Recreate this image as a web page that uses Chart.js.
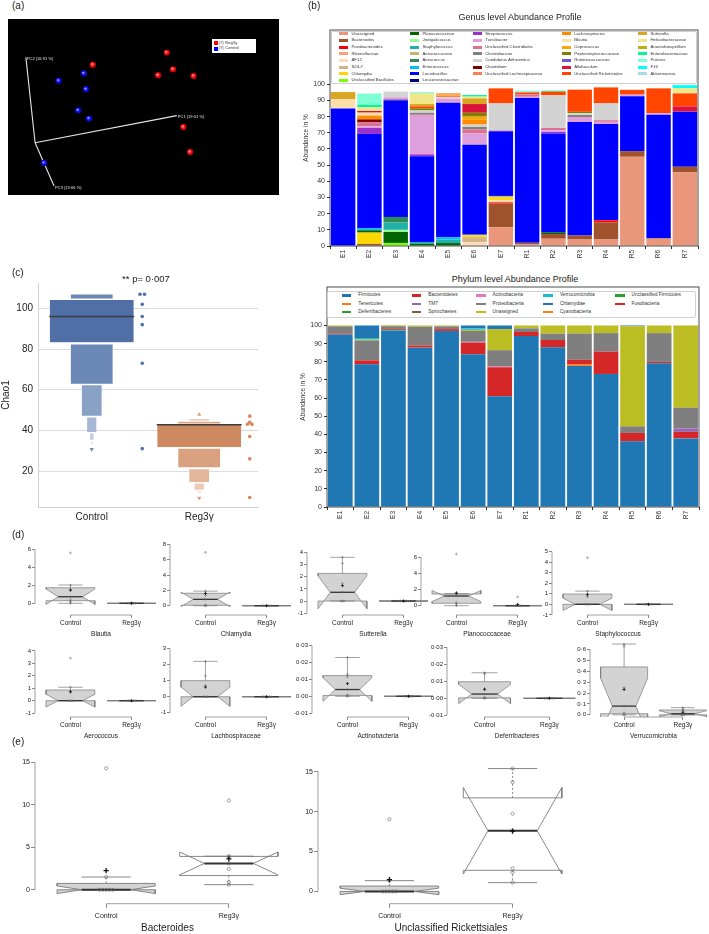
<!DOCTYPE html>
<html>
<head>
<meta charset="utf-8">
<script src="https://cdn.jsdelivr.net/npm/chart.js@4.4.1/dist/chart.umd.min.js"></script>
<style>
body { margin: 0; background: #fff; font-family: "Liberation Sans", Arial, sans-serif; }
#page { position: relative; width: 709px; height: 934px; overflow: hidden; background: #fff; }
canvas { position: absolute; }
.txt { position: absolute; white-space: nowrap; color: #222; line-height: 1; }
.lg { position: absolute; background: #fff; border: 1px solid #d0d0d0; border-radius: 2px; box-sizing: border-box; }
.sw { position: absolute; }
</style>
</head>
<body>
<div id="page"></div>
<script>
// ---------- (a) PCoA, screen positions in the 3D view (0-100 of the black box)
const pcaReg3 = [[31.3, 74.0], [58.6, 80.9], [60.9, 71.4], [55.4, 68.0], [68.5, 67.6], [64.7, 38.6], [67.2, 24.4]]
const pcaControl = [[28.0, 69.1], [18.7, 64.9], [28.8, 60.1], [25.9, 48.1], [29.9, 43.4], [13.3, 18.2]]
const pcaOrigin = [10.0, 29.7]
const pcaAxisEnds = [[62.3, 45.1], [6.6, 78.2], [17.0, 5.1]]
const pcaAxisLabels = ['PC1 (19·01 %)', 'PC2 (16·91 %)', 'PC3 (13·66 %)']

// ---------- (b) abundance profiles
const samples = ['E1', 'E2', 'E3', 'E4', 'E5', 'E6', 'E7', 'R1', 'R2', 'R3', 'R4', 'R5', 'R6', 'R7']
const abundanceTicks = [0, 10, 20, 30, 40, 50, 60, 70, 80, 90, 100]

const genusNames = ['Unassigned', 'Bacteroides', 'Parabacteroides', 'Rikenellaceae', 'AF12', 'S24-7', 'Chlamydia', 'Unclassified Bacillales',
    'Planococcaceae', 'Jeotgalicoccus', 'Staphylococcus', 'Aerococcaceae', 'Aerococcus', 'Enterococcus', 'Lactobacillus', 'Leuconostocaceae',
    'Streptococcus', 'Turicibacter', 'Unclassified Clostridiales', 'Clostridiaceae', 'Candidatus Arthromitus', 'Clostridium', 'Unclassified Lachnospiraceae',
    'Lachnospiracea', 'Blautia', 'Coprococcus', 'Peptostreptococcaceae', 'Ruminococcaceae', 'Allobaculum', 'Unclassified Rickettsiales',
    'Sutterella', 'Helicobacteraceae', 'Anaerobiospirillum', 'Enterobacteriaceae', 'Proteus', 'F16', 'Akkermansia']
const genusColors = ['#e9967a', '#a0522d', '#ff0000', '#ffa07a', '#ffdab9', '#d2b48c', '#ffd700', '#7cfc00',
    '#006400', '#98fb98', '#20b2aa', '#bdb76b', '#2e8b57', '#00bfff', '#0000ff', '#000080',
    '#9932cc', '#dda0dd', '#db7093', '#808080', '#d3d3d3', '#800000', '#ff7f50',
    '#ff8c00', '#ffdead', '#ffa500', '#808000', '#6a5acd', '#dc143c', '#ff4500',
    '#daa520', '#f0e68c', '#bab00b', '#00fa9a', '#7fffd4', '#00ffff', '#add8e6']

// genus segments per sample (% , bottom to top)
const genusE1 = { Lactobacillus: 85.1, Blautia: 5.8, Sutterella: 4.3 }
const genusE2 = { Bacteroides: 1.3, Chlamydia: 7, Planococcaceae: 1.4, Enterococcus: 1.3, Lactobacillus: 58.3, Streptococcus: 3.7, Turicibacter: 1, 'Unclassified Clostridiales': 2.5, Clostridium: 1.8, Lachnospiracea: 2.4, Blautia: 1.8, Allobaculum: 1, Helicobacteraceae: 2.3, Enterobacteriaceae: 1.5, Proteus: 7 }
const genusE3 = { 'Unclassified Bacillales': 1.9, Planococcaceae: 6.8, Jeotgalicoccus: 1.3, Staphylococcus: 4.5, Aerococcus: 3.5, Lactobacillus: 71.9, Leuconostocaceae: 0.6, Turicibacter: 1.5, 'Candidatus Arthromitus': 3.5 }
const genusE4 = { Planococcaceae: 1.3, Staphylococcus: 1.2, Lactobacillus: 53, Streptococcus: 1.2, Turicibacter: 23.9, 'Unclassified Clostridiales': 0.6, Clostridiaceae: 1.2, 'Candidatus Arthromitus': 1.5, Peptostreptococcaceae: 1.3, 'Unclassified Rickettsiales': 1.2, Sutterella: 1.4, Helicobacteraceae: 6.6, Enterobacteriaceae: 0.5 }
const genusE5 = { Planococcaceae: 1.8, Staphylococcus: 2.2, Enterococcus: 1.5, Lactobacillus: 83.1, Turicibacter: 2.5, 'Candidatus Arthromitus': 1, 'Unclassified Lachnospiraceae': 0.9, Coprococcus: 0.8, 'Unclassified Rickettsiales': 0.5 }
const genusE6 = { AF12: 2.5, 'S24-7': 3, Chlamydia: 1, Aerococcaceae: 0.5, Lactobacillus: 55.6, Turicibacter: 7, 'Unclassified Clostridiales': 2.5, Clostridiaceae: 1.5, 'Candidatus Arthromitus': 1.5, Lachnospiracea: 3.2, Coprococcus: 1.7, Peptostreptococcaceae: 2.4, Allobaculum: 5.4, Sutterella: 3.5, Helicobacteraceae: 1.1, Enterobacteriaceae: 1 }
const genusE7 = { Unassigned: 11.6, Bacteroides: 14.6, Parabacteroides: 0.8, AF12: 1.5, Chlamydia: 1.5, Aerococcaceae: 1, Lactobacillus: 40, 'Unclassified Clostridiales': 0.5, 'Candidatus Arthromitus': 16.7, 'Unclassified Rickettsiales': 9.3 }
const genusR1 = { Unassigned: 1, Bacteroides: 1, Lactobacillus: 89.5, Turicibacter: 0.8, 'Unclassified Clostridiales': 1.5, 'Unclassified Rickettsiales': 1.2, Proteus: 1 }
const genusR2 = { Unassigned: 4.5, Bacteroides: 2.9, Planococcaceae: 1, Lactobacillus: 61.2, Streptococcus: 1, Turicibacter: 1, 'Unclassified Clostridiales': 1.4, 'Candidatus Arthromitus': 20.2, 'Unclassified Rickettsiales': 2.3, Enterobacteriaceae: 0.6 }
const genusR3 = { Unassigned: 4, Bacteroides: 2.5, Lactobacillus: 70.2, Turicibacter: 3.1, Clostridiaceae: 1.2, 'Candidatus Arthromitus': 1.2, Peptostreptococcaceae: 0.8, 'Unclassified Rickettsiales': 13.7 }
const genusR4 = { Unassigned: 4, Bacteroides: 10.5, Parabacteroides: 1.4, Lactobacillus: 59.5, Turicibacter: 1.4, 'Unclassified Clostridiales': 1, 'Candidatus Arthromitus': 10.4, 'Unclassified Rickettsiales': 9.9 }
const genusR5 = { Unassigned: 55.2, Bacteroides: 3.5, Lactobacillus: 33.9, Turicibacter: 1, 'Unclassified Rickettsiales': 3 }
const genusR6 = { Unassigned: 4.5, Bacteroides: 0.3, Lactobacillus: 76.4, Turicibacter: 1, 'Unclassified Rickettsiales': 15.3 }
const genusR7 = { Unassigned: 45.5, Bacteroides: 3.5, Lactobacillus: 34.1, Allobaculum: 3.3, 'Unclassified Rickettsiales': 8, Helicobacteraceae: 3.3, F16: 1.8 }
const genusSamples = [genusE1, genusE2, genusE3, genusE4, genusE5, genusE6, genusE7, genusR1, genusR2, genusR3, genusR4, genusR5, genusR6, genusR7]

// phylum, one array per phylum over the samples
const phylumNames = ['Firmicutes', 'Tenericutes', 'Deferribacteres', 'Bacteroidetes', 'TM7', 'Spirochaetes', 'Actinobacteria',
    'Proteobacteria', 'Unassigned', 'Verrucomicrobia', 'Chlamydiae', 'Cyanobacteria', 'Unclassified Firmicutes', 'Fusobacteria']
const phylumColors = ['#1f77b4', '#ff7f0e', '#2ca02c', '#d62728', '#9467bd', '#8c564b', '#e377c2',
    '#7f7f7f', '#bcbd22', '#17becf', '#1f77b4', '#ff7f0e', '#2ca02c', '#d62728']
const firmicutes = [95, 78.6, 97.3, 87.8, 97, 84.2, 61, 94.2, 88, 77.7, 73.3, 36.2, 79.2, 37.8]
const tenericutes = [0, 0, 0, 0, 0, 0, 0, 0, 0, 0.8, 0, 0, 0, 0]
const deferribacteres = [0, 0, 0.3, 0, 0, 0, 0, 0, 0, 0, 0, 0, 0, 0]
const bacteroidetes = [0.6, 2.2, 0.5, 1.2, 1, 6.4, 16, 2.2, 4, 2.6, 12.3, 4.6, 0.8, 3.6]
const tm7 = [0, 0, 0, 0, 0, 0, 0, 0, 0, 0, 0, 0, 0, 1.8]
const spirochaetes = [0, 0, 0, 0, 0, 0, 0, 0, 0, 0, 0, 0, 0, 0]
const actinobacteria = [0, 0, 0, 0, 0, 0.4, 0.4, 0, 0, 0, 0, 0, 0, 0]
const proteobacteria = [3.9, 11, 1.5, 10.3, 1.5, 6, 9, 2, 3.5, 14.5, 10.2, 3.6, 15.8, 11.5]
const unassignedPhylum = [0.5, 0.5, 0.5, 0.7, 0.5, 0.6, 11.6, 1.6, 4.5, 4.4, 4.2, 55.2, 4.2, 45.3]
const verrucomicrobia = [0, 0.8, 0, 0, 0, 0.8, 0, 0, 0, 0, 0, 0, 0, 0]
const chlamydiae = [0, 6.9, 0, 0, 0, 1.6, 2, 0, 0, 0, 0, 0.4, 0, 0]
const cyanobacteria = [0, 0, 0, 0, 0, 0, 0, 0, 0, 0, 0, 0, 0, 0]
const unclassifiedFirmicutes = [0, 0, 0, 0, 0, 0, 0, 0, 0, 0, 0, 0, 0, 0]
const fusobacteria = [0, 0, 0, 0, 0, 0, 0, 0, 0, 0, 0, 0, 0, 0]
const phylumValues = [firmicutes, tenericutes, deferribacteres, bacteroidetes, tm7, spirochaetes, actinobacteria,
    proteobacteria, unassignedPhylum, verrucomicrobia, chlamydiae, cyanobacteria, unclassifiedFirmicutes, fusobacteria]

// ---------- (c) Chao1 boxen plot
const chaoGroups = ['Control', 'Reg3γ']
const chaoTicks = [20, 40, 60, 80, 100]
const chaoControl = [107, 107, 102, 96, 92, 73, 31]
const chaoReg3 = [47, 44, 43, 43, 37, 26, 7]
const chaoMedians = [96, 42.8]
const chaoControlLower = [[83.1, 104.4], [62.7, 82.6], [46.9, 62.5], [38.9, 46.6], [35.1, 38.7], [33, 35]]
const chaoControlUpper = [null, [104.6, 107.1]]
const chaoReg3Lower = [[31.5, 43], [21.5, 31.3], [14.3, 21.2], [10.5, 14.1], [9, 10.4]]
const chaoReg3Upper = [null, [43.1, 44.5], [44.6, 45.8]]
const chaoControlFliers = [30.7]
const chaoReg3Fliers = [47.8, 6.7]

// ---------- (d) relative abundances, 7 mice per group
const blautiaControl = [0, 0.2, 0.38, 0.73, 1.43, 2.03, 5.6]
const blautiaReg3 = [0, 0, 0, 0, 0, 0, 0.02]
const chlamydiaControl = [0, 0, 0.1, 0.83, 1.34, 1.9, 6.95]
const chlamydiaReg3 = [0, 0, 0, 0, 0, 0, 0]
const sutterellaControl = [0, 0, 0, 0.72, 1.45, 3.1, 3.6]
const sutterellaReg3 = [0, 0, 0, 0, 0, 0, 0]
const planococcaceaeControl = [0, 0.2, 0.4, 1.2, 1.4, 1.5, 6.4]
const planococcaceaeReg3 = [0, 0, 0, 0, 0, 0, 1.1]
const staphylococcusControl = [0, 0, 0, 0, 0.7, 1.25, 4.42]
const staphylococcusReg3 = [0, 0, 0, 0, 0, 0, 0]
const aerococcusControl = [0, 0, 0, 0, 0.64, 1.08, 3.42]
const aerococcusReg3 = [0, 0, 0, 0, 0, 0, 0]
const lachnoControl = [0, 0, 0, 0, 0.7, 1.3, 2.2]
const lachnoReg3 = [0, 0, 0, 0, 0, 0, 0]
const actinoControl = [0, 0, 0.001, 0.004, 0.0115, 0.013, 0.023]
const actinoReg3 = [0, 0, 0, 0, 0, 0, 0]
const deferriControl = [0, 0, 0.0005, 0.0025, 0.005, 0.0145, 0.015]
const deferriReg3 = [0, 0, 0, 0, 0, 0, 0]
const verrucoControl = [0, 0, 0.02, 0.08, 0.25, 0.63, 0.65]
const verrucoReg3 = [0, 0, 0, 0.01, 0.04, 0.05, 0.066]

// ---------- (e)
const bacteroidesControl = [0, 0, 0, 0, 0, 1.5, 14.3]
const bacteroidesReg3 = [0.6, 0.9, 2.45, 3.1, 3.9, 3.95, 10.5]
const rickettsialesControl = [0, 0, 0, 0, 0, 1.35, 9.05]
const rickettsialesReg3 = [1.1, 2.4, 2.9, 7.6, 9.75, 13.7, 15.4]
const eTicks = [0, 5, 10, 15]

Chart.defaults.font.family = '"Liberation Sans", Arial, sans-serif'
Chart.defaults.color = '#333'
Chart.defaults.animation = false
Chart.defaults.responsive = false
Chart.defaults.events = []
Chart.defaults.layout.autoPadding = false
Chart.defaults.plugins.legend.display = false
Chart.defaults.plugins.tooltip.enabled = false

const page = document.getElementById('page')

function makeCanvas(left, top, width, height) {
    const c = document.createElement('canvas')
    c.width = Math.round(width); c.height = Math.round(height)
    c.style.left = left + 'px'; c.style.top = top + 'px'
    c.style.width = Math.round(width) + 'px'; c.style.height = Math.round(height) + 'px'
    page.appendChild(c)
    return c
}

function addText(text, x, y, size, opts = {}) {
    const d = document.createElement('div')
    d.className = 'txt'
    d.textContent = text
    d.style.fontSize = size + 'px'
    d.style.left = x + 'px'
    d.style.top = (y - size / 2) + 'px'
    if (opts.center) d.style.transform = 'translateX(-50%)'
    if (opts.color) d.style.color = opts.color
    page.appendChild(d)
    return d
}

// keep the plot area where it is put: no extra room for half labels at the ends
const noPad = s => { s.paddingTop = 0; s.paddingBottom = 0; s.paddingLeft = 0; s.paddingRight = 0 }

// matplotlib style legend, filled column by column
function columnLegend(box, names, colors, ncol, colX, textDx, rowY, rowStep, fontSize, sw) {
    const lg = document.createElement('div')
    lg.className = 'lg'
    Object.assign(lg.style, { left: box[0] + 'px', top: box[1] + 'px', width: box[2] + 'px', height: box[3] + 'px' })
    page.appendChild(lg)
    const nrows = Math.ceil(names.length / ncol), extra = names.length % ncol
    let i = 0
    for (let c = 0; c < ncol; c++) {
        const size = (extra === 0 || c < extra) ? nrows : nrows - 1
        for (let r = 0; r < size && i < names.length; r++, i++) {
            const y = rowY + r * rowStep
            const s = document.createElement('div')
            s.className = 'sw'
            Object.assign(s.style, { left: colX[c] + 'px', top: (y - sw[1] / 2) + 'px', width: sw[0] + 'px', height: sw[1] + 'px', background: colors[i] })
            page.appendChild(s)
            addText(names[i], colX[c] + textDx, y, fontSize, { color: '#333' })
        }
    }
}

const frame = {
    id: 'frame',
    afterDraw(chart) {
        const { ctx, chartArea: a } = chart
        ctx.save()
        ctx.strokeStyle = '#222'; ctx.lineWidth = 0.8
        ctx.strokeRect(a.left, a.top, a.width, a.height)
        ctx.restore()
    }
}

// ================= (a)
const pcaDecor = {
    id: 'pcaDecor',
    beforeDraw(chart) {
        const { ctx, chartArea: a } = chart
        ctx.save(); ctx.fillStyle = '#000'; ctx.fillRect(a.left, a.top, a.width, a.height); ctx.restore()
    },
    afterDatasetsDraw(chart) {
        const { ctx, scales: { x, y } } = chart
        ctx.save()
        ctx.fillStyle = '#e8e8e8'; ctx.font = '4px "Liberation Sans", Arial'; ctx.textBaseline = 'middle'
        pcaAxisEnds.forEach((e, i) => ctx.fillText(pcaAxisLabels[i], x.getPixelForValue(e[0]) + 1, y.getPixelForValue(e[1]) + 1.5))
        ctx.restore()
    }
}
// shaded sphere look of the Emperor points
const ball = (light, mid, dark) => ctx => {
    if (!ctx.parsed || !ctx.chart.chartArea) return mid
    const { x, y } = ctx.chart.scales
    const px = x.getPixelForValue(ctx.parsed.x), py = y.getPixelForValue(ctx.parsed.y)
    if (!isFinite(px) || !isFinite(py)) return mid
    const g = ctx.chart.ctx.createRadialGradient(px - 0.8, py - 0.8, 0.2, px, py, 3.3)
    g.addColorStop(0, light); g.addColorStop(0.45, mid); g.addColorStop(1, dark)
    return g
}
{
    const axisLine = []
    pcaAxisEnds.forEach((e, i) => {
        if (i) axisLine.push({ x: pcaOrigin[0], y: null })
        axisLine.push({ x: pcaOrigin[0], y: pcaOrigin[1] }, { x: e[0], y: e[1] })
    })
    new Chart(makeCanvas(8, 19, 271, 176), {
        type: 'scatter',
        data: {
            datasets: [
                { data: pcaReg3.map(([x, y]) => ({ x, y })), pointRadius: 3.2, backgroundColor: ball('#ffb0b0', '#ff1010', '#a00000'), borderWidth: 0 },
                { data: pcaControl.map(([x, y]) => ({ x, y })), pointRadius: 3.2, backgroundColor: ball('#b0b0ff', '#1818ff', '#0000a0'), borderWidth: 0 },
                { type: 'line', data: axisLine, borderColor: '#e6e6e6', borderWidth: 1.1, pointRadius: 0, spanGaps: false }
            ]
        },
        options: {
            layout: { padding: 0 },
            scales: { x: { display: false, min: 0, max: 100 }, y: { display: false, min: 0, max: 100 } }
        },
        plugins: [pcaDecor]
    })
    const lg = document.createElement('div')
    lg.className = 'lg'
    Object.assign(lg.style, { left: '212px', top: '39px', width: '44px', height: '14px', border: '1px solid #fff', borderRadius: '0' })
    page.appendChild(lg)
    const items = [['(7) Reg3γ', '#ff0000'], ['(7) Control', '#0000ff']]
    items.forEach(([t, col], i) => {
        const s = document.createElement('div')
        s.className = 'sw'
        Object.assign(s.style, { left: '213.5px', top: (41 + i * 5.5) + 'px', width: '4px', height: '4px', background: col })
        page.appendChild(s)
        addText(t, 218.5, 43 + i * 5.5, 4.3, { color: '#333' })
    })
}

// ================= (b)
function profileChart(box, datasets, yMax, titlePad) {
    return new Chart(makeCanvas(box.left, box.top, box.width, box.height), {
        type: 'bar',
        data: { labels: samples, datasets },
        options: {
            layout: { padding: { top: 2, right: box.padRight, left: 0, bottom: 0 } },
            datasets: { bar: { barPercentage: 0.93, categoryPercentage: 1, borderWidth: 0 } },
            scales: {
                x: {
                    stacked: true,
                    grid: { drawOnChartArea: false, tickLength: 3, color: '#333' },
                    border: { display: false },
                    ticks: { minRotation: 90, maxRotation: 90, autoSkip: false, font: { size: 6.5 }, padding: 1 },
                    afterFit: s => { s.height = 24; noPad(s) }
                },
                y: {
                    stacked: true, min: 0, max: yMax,
                    afterBuildTicks: s => { s.ticks = abundanceTicks.map(v => ({ value: v })) },
                    grid: { drawOnChartArea: false, tickLength: 3, color: '#333' },
                    border: { display: false },
                    ticks: { font: { size: 7 }, padding: 2 },
                    title: { display: true, text: 'Abundance in %', font: { size: 6.5 }, padding: { top: titlePad, bottom: 0 } },
                    afterFit: s => { s.width = box.yWidth; noPad(s) }
                }
            }
        },
        plugins: [frame]
    })
}

profileChart({ left: 290, top: 28, width: 419, height: 242, padRight: 11, yWidth: 40 },
    genusNames.map((g, i) => ({ label: g, data: genusSamples.map(s => s[g] || 0), backgroundColor: genusColors[i] })), 133.6, 12)
columnLegend([331, 31, 366, 53], genusNames, genusColors, 5, [339, 410, 472.7, 561.7, 638], 12.5, 33.8, 6.65, 4.3, [9, 3])
addText('Genus level Abundance Profile', 520, 17.7, 9, { center: true })

profileChart({ left: 290, top: 285, width: 419, height: 246, padRight: 10, yWidth: 37 },
    phylumNames.map((p, i) => ({ label: p, data: phylumValues[i], backgroundColor: phylumColors[i] })), 121.2, 9.5)
columnLegend([327, 291, 369, 27], phylumNames, phylumColors, 5, [341.7, 411.7, 476, 543.3, 615], 16.6, 295.8, 8.1, 4.8, [9.5, 2.8])
addText('Phylum level Abundance Profile', 515, 279, 9, { center: true, color: '#222' })

// ================= (c)
{
    const blues = ['#4f6fa6', '#6b87b6', '#8aa1c6', '#a7b8d5', '#c2cde3', '#d9e0ee']
    const oranges = ['#cd8a61', '#d9a17f', '#e2b69b', '#ebcab6', '#f2dccf', '#f7ebe3']
    const depthWidth = [0.79, 0.4, 0.195, 0.097, 0.045, 0.022]
    const boxes = []
    const addLevel = (ctrl, reg, d) => {
        const data = [], colors = []
        if (ctrl) { data.push({ x: 0, y: ctrl }); colors.push(blues[d]) }
        if (reg) { data.push({ x: 1, y: reg }); colors.push(oranges[d]) }
        if (data.length) boxes.push({ type: 'bar', data, backgroundColor: colors, borderColor: 'rgba(255,255,255,0.7)', borderWidth: 0.6, borderSkipped: false, grouped: false, barPercentage: depthWidth[d], categoryPercentage: 1 })
    }
    for (let d = 0; d < depthWidth.length; d++) {
        addLevel(chaoControlLower[d], chaoReg3Lower[d], d)
        addLevel(chaoControlUpper[d], chaoReg3Upper[d], d)
    }
    const strip = (vals, xc) => {
        const counts = {}, seen = {}
        vals.forEach(v => { counts[v] = (counts[v] || 0) + 1 })
        return vals.map(v => { const k = seen[v] = (seen[v] || 0) + 1; return { x: xc + (k - 1 - (counts[v] - 1) / 2) * 0.042, y: v } })
    }
    const fliers = (vals, xc) => vals.map(v => ({ x: xc, y: v }))
    const flierRot = (vals, med) => vals.map(v => v > med ? 0 : 180)
    const datasets = [
        { type: 'scatter', data: strip(chaoControl, 0.47), pointRadius: 1.8, backgroundColor: '#4c72b0', borderWidth: 0 },
        { type: 'scatter', data: strip(chaoReg3, 1.47), pointRadius: 1.8, backgroundColor: '#dd8452', borderWidth: 0 },
        { type: 'scatter', data: fliers(chaoControlFliers, 0), pointStyle: 'triangle', rotation: flierRot(chaoControlFliers, chaoMedians[0]), pointRadius: 2.4, backgroundColor: '#6b87b6', borderWidth: 0 },
        { type: 'scatter', data: fliers(chaoReg3Fliers, 1), pointStyle: 'triangle', rotation: flierRot(chaoReg3Fliers, chaoMedians[1]), pointRadius: 2.4, backgroundColor: '#d9a17f', borderWidth: 0 },
        { type: 'bar', data: chaoMedians.map((m, i) => ({ x: i, y: [m - 0.35, m + 0.35] })), backgroundColor: '#3d3d3d', grouped: false, barPercentage: depthWidth[0], categoryPercentage: 1, borderWidth: 0 },
        ...boxes
    ]
    new Chart(makeCanvas(0, 281, 260, 250), {
        type: 'bar',
        data: { datasets },
        options: {
            layout: { padding: { top: 2, right: 2, left: 0, bottom: 0 } },
            scales: {
                x: {
                    type: 'linear', min: -0.5, max: 1.547, offset: false,
                    afterBuildTicks: s => { s.ticks = [{ value: 0 }, { value: 1 }] },
                    ticks: { callback: v => chaoGroups[v], font: { size: 10 }, color: '#222', padding: 4 },
                    grid: { display: false, drawTicks: false, offset: false },
                    border: { display: true, color: '#d0d0d0' },
                    afterFit: s => { s.height = 24; noPad(s) }
                },
                y: {
                    min: 2.3, max: 112.5,
                    afterBuildTicks: s => { s.ticks = chaoTicks.map(v => ({ value: v })) },
                    grid: { color: '#dcdcdc', drawTicks: false },
                    border: { display: true, color: '#d0d0d0' },
                    ticks: { font: { size: 10 }, color: '#222', padding: 5 },
                    title: { display: true, text: 'Chao1', font: { size: 10 }, color: '#222', padding: 0 },
                    afterFit: s => { s.width = 38; noPad(s) }
                }
            }
        }
    })
    addText('** p= 0·007', 146, 279, 9.5, { center: true })
}

// ================= (d) and (e): R style notched box plots
function boxStats(values) {
    const s = [...values].sort((a, b) => a - b), n = s.length
    const n4 = Math.floor((n + 3) / 2) / 2
    const hinge = d => 0.5 * (s[Math.floor(d) - 1] + s[Math.ceil(d) - 1])
    const q1 = hinge(n4), med = hinge((n + 1) / 2), q3 = hinge(n + 1 - n4)
    const iqr = q3 - q1
    const inside = s.filter(v => v >= q1 - 1.5 * iqr && v <= q3 + 1.5 * iqr)
    const notch = 1.58 * iqr / Math.sqrt(n)
    return { q1, med, q3, lo: inside[0], hi: inside[inside.length - 1], cLo: med - notch, cHi: med + notch, mean: s.reduce((a, b) => a + b, 0) / n }
}

function boxDatasets(values, xc, fill, g, clip) {
    const st = boxStats(values), w = 0.4
    const P = (x, y) => ({ x, y })
    const gap = { x: xc, y: null }
    const counts = {}, seen = {}
    values.forEach(v => { counts[v] = (counts[v] || 0) + 1 })
    const pts = values.map(v => { const k = seen[v] = (seen[v] || 0) + 1; return P(xc + (k - 1 - (counts[v] - 1) / 2) * g.stack, v) })
    const line = { type: 'line', pointRadius: 0, borderColor: g.edge, borderWidth: g.lw, spanGaps: false, clip, fill: false }
    return [
        { type: 'scatter', data: [P(xc, st.mean)], pointStyle: 'cross', pointRadius: g.meanR, borderColor: '#111', borderWidth: g.meanLw, clip },
        { type: 'scatter', data: pts, pointRadius: g.ptR, backgroundColor: 'rgba(0,0,0,0)', borderColor: '#666', borderWidth: 0.6, clip },
        { ...line, data: [P(xc - w / 2, st.med), P(xc + w / 2, st.med)], borderColor: '#333', borderWidth: g.medLw },
        { ...line, data: [P(xc - w / 2, st.hi), P(xc + w / 2, st.hi), gap, P(xc - w / 2, st.lo), P(xc + w / 2, st.lo)] },
        { ...line, data: [P(xc, st.q3), P(xc, st.hi), gap, P(xc, st.q1), P(xc, st.lo)], borderDash: g.dash },
        {
            ...line, fill: 'shape', backgroundColor: fill,
            data: [P(xc - w, st.q1), P(xc + w, st.q1), P(xc + w, st.cLo), P(xc + w / 2, st.med), P(xc + w, st.cHi), P(xc + w, st.q3),
                P(xc - w, st.q3), P(xc - w, st.cHi), P(xc - w / 2, st.med), P(xc - w, st.cLo), P(xc - w, st.q1)]
        }
    ]
}

const rAxisLines = {
    id: 'rAxisLines',
    afterDraw(chart) {
        const { ctx, chartArea: a, scales: { x, y } } = chart
        const yt = y.ticks, xt = x.ticks
        ctx.save()
        ctx.strokeStyle = '#888'; ctx.lineWidth = 0.8
        ctx.beginPath()
        ctx.moveTo(a.left, y.getPixelForValue(yt[0].value))
        ctx.lineTo(a.left, y.getPixelForValue(yt[yt.length - 1].value))
        ctx.moveTo(x.getPixelForValue(xt[0].value), a.bottom)
        ctx.lineTo(x.getPixelForValue(xt[xt.length - 1].value), a.bottom)
        ctx.stroke()
        ctx.restore()
    }
}

function boxChart(p, g) {
    const width = g.YW + (g.xMax - g.xMin) * p.u + 2
    const height = (p.B - p.T) + 3 + g.XH
    const fmt = v => (v < 0 ? '-' : '') + Math.abs(v).toFixed(p.digits).replace('.', '·')
    const clip = p.clip ? undefined : false
    const datasets = [...boxDatasets(p.control, 1, g.fills[0], g, clip), ...boxDatasets(p.reg3, 2, g.fills[1], g, clip)]
    const tickGrid = { drawOnChartArea: false, drawTicks: true, tickLength: g.tickLen, color: '#888' }
    new Chart(makeCanvas(p.axisX - g.YW, p.T - 3, width, height), {
        type: 'scatter',
        data: { datasets },
        options: {
            layout: { padding: { top: 3, right: 2, left: 0, bottom: 0 } },
            scales: {
                x: {
                    type: 'linear', min: g.xMin, max: g.xMax,
                    afterBuildTicks: s => { s.ticks = [{ value: 1 }, { value: 2 }] },
                    ticks: { callback: v => chaoGroups[v - 1], font: { size: g.labelFont }, color: '#222', padding: g.labelPad, maxRotation: 0 },
                    grid: tickGrid, border: { display: false },
                    title: { display: true, text: p.title, font: { size: g.titleFont }, color: '#222', padding: 0 },
                    afterFit: s => { s.height = g.XH; noPad(s) }
                },
                y: {
                    min: p.yMin, max: p.yMax,
                    afterBuildTicks: s => { s.ticks = p.ticks.map(v => ({ value: v })) },
                    ticks: { callback: fmt, font: { size: g.tickFont }, color: '#222', padding: 1 },
                    grid: tickGrid, border: { display: false },
                    afterFit: s => { s.width = g.YW; noPad(s) }
                }
            }
        },
        plugins: [rAxisLines]
    })
}

const dGeo = { YW: 28, XH: 23, xMin: 0.42, xMax: 2.58, tickLen: 3, tickFont: 6, labelFont: 6.5, labelPad: 1, titleFont: 6.5,
    fills: ['#d3d3d3', '#d3d3d3'], edge: '#7a7a7a', lw: 0.7, medLw: 1.3, dash: [], stack: 0.025, ptR: 0.8, meanR: 1.6, meanLw: 0.8 }
const row1 = { T: 542, B: 615 }, row2 = { T: 643, B: 717 }
const dPanels = [
    { title: 'Blautia', control: blautiaControl, reg3: blautiaReg3, ticks: [0, 2, 4, 6], digits: 0, ...row1, axisX: 35, u: 61, yMin: -1.30, yMax: 6.81 },
    { title: 'Chlamydia', control: chlamydiaControl, reg3: chlamydiaReg3, ticks: [0, 2, 4, 6, 8], digits: 0, ...row1, axisX: 170, u: 61, yMin: -1.21, yMax: 8.30 },
    { title: 'Sutterella', control: sutterellaControl, reg3: sutterellaReg3, ticks: [-1, 0, 1, 2, 3, 4], digits: 0, ...row1, axisX: 306.7, u: 61, yMin: -1.15, yMax: 4.86 },
    { title: 'Planococcaceae', control: planococcaceaeControl, reg3: planococcaceaeReg3, ticks: [0, 2, 4, 6], digits: 0, ...row1, axisX: 421, u: 61, yMin: -1.15, yMax: 7.89 },
    { title: 'Staphylococcus', control: staphylococcusControl, reg3: staphylococcusReg3, ticks: [-1, 0, 1, 2, 3, 4, 5], digits: 0, ...row1, axisX: 551.7, u: 61, yMin: -1.01, yMax: 5.9 },
    { title: 'Aerococcus', control: aerococcusControl, reg3: aerococcusReg3, ticks: [-1, 0, 1, 2, 3, 4], digits: 0, ...row2, axisX: 35, u: 61, yMin: -1.31, yMax: 4.63 },
    { title: 'Lachbospiraceae', control: lachnoControl, reg3: lachnoReg3, ticks: [-1, 0, 1, 2, 3], digits: 0, ...row2, axisX: 170, u: 61, yMin: -1.26, yMax: 3.34 },
    { title: 'Actinobacteria', control: actinoControl, reg3: actinoReg3, ticks: [-0.01, 0, 0.01, 0.02, 0.03], digits: 2, ...row2, axisX: 311.7, u: 61, yMin: -0.0123, yMax: 0.0316 },
    { title: 'Deferribacteres', control: deferriControl, reg3: deferriReg3, ticks: [-0.01, 0, 0.01, 0.02, 0.03], digits: 2, ...row2, axisX: 446.7, u: 65, yMin: -0.011, yMax: 0.0325 },
    { title: 'Verrucomicrobia', control: verrucoControl, reg3: verrucoReg3, ticks: [0, 0.1, 0.2, 0.3, 0.4, 0.5, 0.6], digits: 1, ...row2, axisX: 590, u: 59, yMin: -0.02, yMax: 0.66, clip: true }
]
dPanels.forEach(p => boxChart(p, dGeo))

const eGeo = { YW: 30, XH: 30.3, xMin: 0.42, xMax: 2.58, tickLen: 4, tickFont: 7, labelFont: 7, labelPad: 4, titleFont: 10,
    fills: ['#d3d3d3', '#ffffff'], edge: '#7a7a7a', lw: 0.9, medLw: 2, dash: [2, 2], stack: 0.027, ptR: 1.6, meanR: 2.6, meanLw: 1.3 }
boxChart({ title: 'Bacteroides', control: bacteroidesControl, reg3: bacteroidesReg3, ticks: eTicks, digits: 0, T: 755, B: 904, axisX: 35, u: 122.6, yMin: -1.64, yMax: 15.86 }, eGeo)
boxChart({ title: 'Unclassified Rickettsiales', control: rickettsialesControl, reg3: rickettsialesReg3, ticks: eTicks, digits: 0, T: 755, B: 904, axisX: 318.3, u: 123.3, yMin: -1.54, yMax: 17.1 }, eGeo)

// panel letters
addText('(a)', 12, 6, 10)
addText('(b)', 308, 6, 10)
addText('(c)', 12, 273, 10)
addText('(d)', 12, 535, 10)
addText('(e)', 12, 742, 10)
</script>
</body>
</html>
